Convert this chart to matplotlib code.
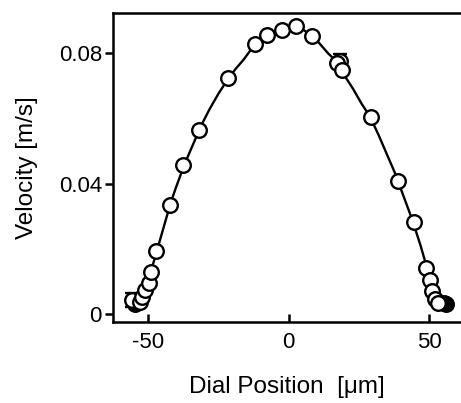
import numpy as np
import matplotlib.pyplot as plt

plt.rcParams['font.family'] = ['Liberation Sans', 'DejaVu Sans']

# measured points (dial position in um, velocity in m/s)
pos = [-53.0, -52.0, -51.0, -49.8, -49.0, -47.3, -42.3, -37.4, -32.0, -21.7,
       -12.1, -7.5, -2.5, 2.5, 8.2, 17.4, 18.9, 29.2, 39.1, 44.5,
       49.1, 50.2, 51.2, 52.3, 53.3]
vel = [0.0037, 0.0052, 0.0074, 0.0095, 0.0129, 0.0193, 0.0334, 0.0457, 0.0564, 0.0723,
       0.0828, 0.0855, 0.0870, 0.0883, 0.0852, 0.0769, 0.0748, 0.0604, 0.0408, 0.0282,
       0.0141, 0.0104, 0.0070, 0.0046, 0.0035]

# points with error bars
err_pos = [-55.9, 18.3]
err_vel = [0.0043, 0.0776]
err_val = [0.0022, 0.0020]

# filled edge points
dark_pos = [-54.5, 55.2, 56.0]
dark_vel = [0.0030, 0.0033, 0.0030]

# fitted profile
fit_pos = [-56, -54, -52, -50, -48, -46, -44, -42, -40, -37, -34, -31, -28, -25, -22,
           -19, -16, -13, -10, -7, -4, -1, 2, 5, 8, 11, 14, 17, 20, 23, 26, 29, 32,
           35, 38, 41, 44, 47, 50, 52, 54, 56]
fit_vel = [0.0025, 0.004, 0.0065, 0.0105, 0.016, 0.022, 0.028, 0.034, 0.039, 0.046,
           0.052, 0.058, 0.063, 0.0675, 0.0715, 0.075, 0.078, 0.0815, 0.084, 0.0858,
           0.087, 0.0878, 0.088, 0.0873, 0.0855, 0.083, 0.080, 0.0775, 0.073, 0.069,
           0.0645, 0.0605, 0.055, 0.049, 0.043, 0.036, 0.029, 0.021, 0.012, 0.007,
           0.0035, 0.0025]

fig = plt.figure(figsize=(4.61, 4.03), dpi=100)
ax = fig.add_axes([113 / 461, 81 / 403, 348 / 461, 309 / 403])

ax.plot(fit_pos, fit_vel, color='black', lw=1.7, zorder=2)
ax.errorbar(err_pos, err_vel, yerr=err_val, fmt='o', ms=10.5, mfc='white', mec='black',
            mew=1.7, ecolor='black', elinewidth=1.7, capsize=5, capthick=1.7, zorder=3)
ax.plot(dark_pos, dark_vel, 'o', ms=10.5, mfc='black', mec='black', mew=1.7, zorder=3)
ax.plot(pos, vel, 'o', ms=10.5, mfc='white', mec='black', mew=1.7, zorder=4)

ax.set_xlim(-62.5, 61.4)
ax.set_ylim(-0.00245, 0.0923)
ax.set_xticks([-50, 0, 50])
ax.set_xticklabels(['-50', '0', '50'])
ax.set_yticks([0, 0.04, 0.08])
ax.set_yticklabels(['0', '0.04', '0.08'])

for s in ['left', 'bottom', 'top']:
    ax.spines[s].set_linewidth(1.8)
ax.spines['right'].set_visible(False)
ax.tick_params(axis='x', direction='in', length=6, width=1.8, labelsize=16, pad=7)
ax.tick_params(axis='y', direction='out', length=6, width=1.8, labelsize=16, pad=2)

ax.set_xlabel('Dial Position  [\u03bcm]', fontsize=17.5, labelpad=17)
ax.set_ylabel('Velocity [m/s]', fontsize=17.5, labelpad=15)

fig.savefig('out.png', dpi=100)
